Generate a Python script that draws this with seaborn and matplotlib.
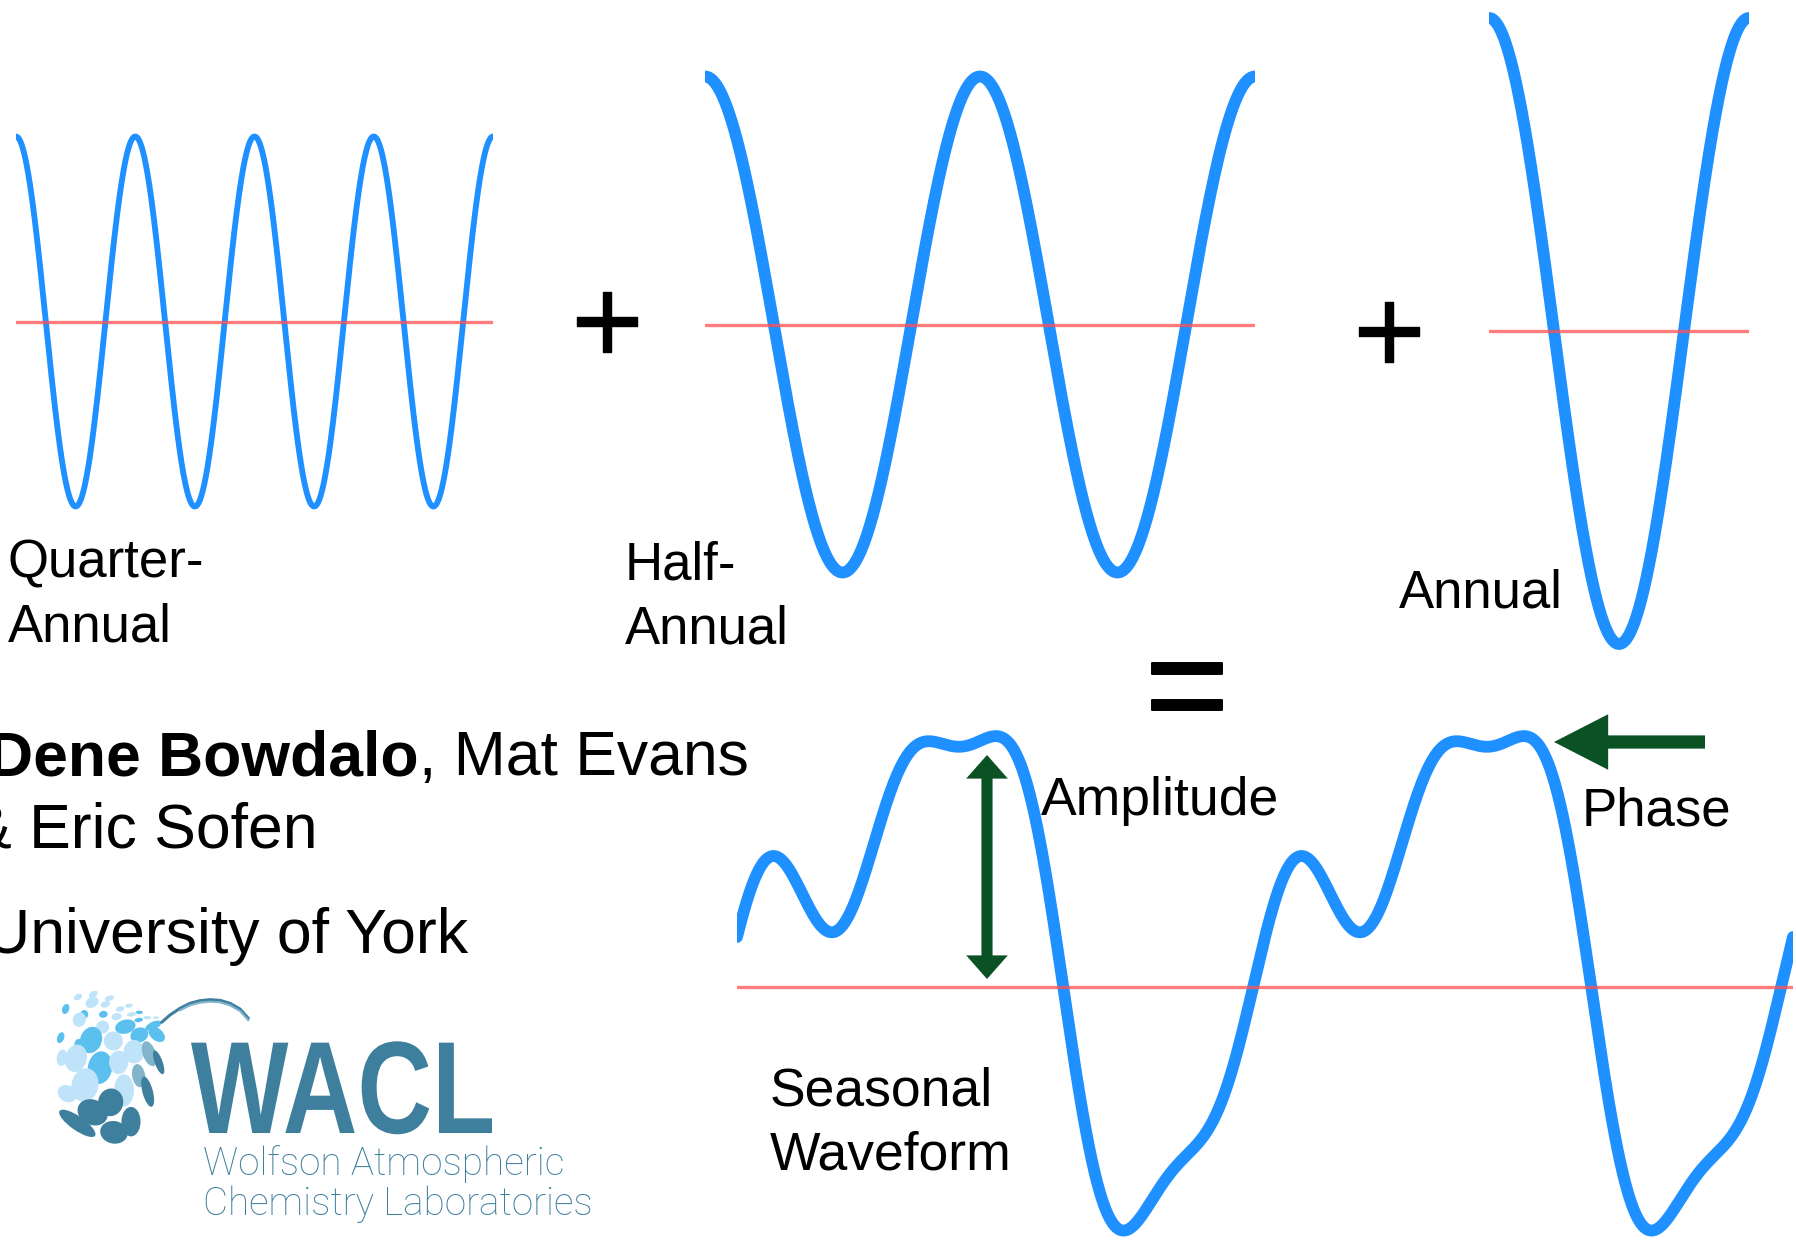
import numpy as np
import matplotlib.pyplot as plt
import matplotlib.patheffects as pe
import seaborn as sns
from matplotlib.patches import Ellipse, PathPatch
from matplotlib.textpath import TextPath
from matplotlib.font_manager import FontProperties
from matplotlib.transforms import Affine2D

# ---- data (value units ~ poster pixels) ----
quarter_cycles = 4      # cycles per year
quarter_amp = 185
half_cycles = 2
half_amp = 248
annual_cycles = 1
annual_amp = 313

# seasonal waveform = offset + harmonics (1 = annual, 2 = half, 4 = quarter)
seasonal_years = 2
seasonal_offset = 43
seasonal_harm = [1, 2, 4]
seasonal_cos = [-100, 103, 4]
seasonal_sin = [183, -6, 41]

component_labels = [["Quarter-", "Annual"], ["Half-", "Annual"], ["Annual"]]
author_lines = ["Dene Bowdalo", ", Mat Evans", "& Eric Sofen", "University of York"]
logo_title = "WACL"
logo_lines = ["Wolfson Atmospheric", "Chemistry Laboratories"]

# logo dots: x, y, w, h, angle, colour key (logo-local coords)
logo_dots = [
    (84, 36, 20, 14, -30, "L"), (130, 28, 22, 14, -30, "L"), (178, 40, 22, 12, -20, "L"),
    (126, 52, 32, 24, -30, "L"), (166, 58, 22, 14, -20, "L"), (210, 72, 20, 12, -15, "L"),
    (237, 62, 18, 9, -10, "L"), (47, 72, 16, 24, 20, "M"), (103, 88, 18, 20, 0, "M"),
    (88, 104, 30, 34, 20, "L"), (160, 88, 20, 16, -10, "M"), (200, 95, 24, 16, -10, "L"),
    (245, 88, 22, 10, -10, "L"), (268, 82, 16, 8, 0, "M"), (266, 105, 20, 10, -10, "M"),
    (292, 98, 18, 8, 0, "L"), (318, 98, 14, 6, 0, "L"), (158, 126, 30, 30, 0, "L"),
    (226, 125, 48, 32, -15, "M"), (310, 122, 40, 18, -25, "M"), (32, 158, 16, 26, 20, "M"),
    (85, 177, 18, 24, 10, "M"), (123, 165, 50, 62, 20, "M"), (190, 168, 44, 44, 10, "L"),
    (268, 150, 42, 34, -20, "M"), (320, 148, 28, 44, -50, "M"), (36, 218, 24, 38, 10, "L"),
    (78, 220, 50, 64, 15, "L"), (150, 248, 56, 76, 10, "M"), (206, 232, 44, 54, 0, "L"),
    (252, 200, 48, 54, 0, "L"), (298, 206, 30, 60, -20, "G"), (326, 232, 18, 58, -20, "D"),
    (52, 326, 46, 38, 30, "L"), (105, 300, 62, 78, 10, "L"), (222, 316, 46, 74, 0, "L"),
    (266, 272, 30, 54, -10, "G"), (293, 320, 24, 72, -15, "D"), (82, 415, 100, 32, 35, "D"),
    (128, 382, 72, 58, 25, "D"), (182, 352, 58, 64, 10, "D"), (192, 442, 64, 52, 10, "D"),
    (243, 410, 44, 68, 0, "D"),
]
logo_spray_x = [335, 360, 390, 420, 450, 480, 510, 540, 570, 595]
logo_spray_y = [112, 90, 70, 55, 47, 44, 46, 55, 72, 100]

# ---- style ----
sns.set_theme(style="white")
plt.rcParams["font.family"] = ["Liberation Sans", "DejaVu Sans"]
plt.rcParams["text.color"] = "black"
BLUE = "#1e90ff"
RED = "#ff5050"
GREEN = "#0a5124"
TEAL = "#3f7f9e"
dot_colors = {"L": "#bfe4f9", "M": "#5cc0ee", "D": "#3f7f9e", "G": "#82b4cc"}

W, H = 1796, 1248
fig = plt.figure(figsize=(W / 100, H / 100), dpi=100)
fig.patch.set_facecolor("white")


def wave_axes(x0, x1, center, half_h):
    ax = fig.add_axes([x0 / W, 1 - (center + half_h) / H, (x1 - x0) / W, 2 * half_h / H])
    ax.set_ylim(-half_h, half_h)
    ax.axis("off")
    return ax


def draw_wave(ax, years, values, lw):
    t = np.linspace(0, years, 1200)
    sns.lineplot(x=t, y=values(t), ax=ax, color=BLUE, linewidth=lw, estimator=None)
    ax.axhline(0, color=RED, lw=2.4, alpha=0.75, zorder=5)
    ax.set_xlim(0, years)


# quarter / half / annual components
ax_q = wave_axes(16, 493, 321.5, quarter_amp + 20)
draw_wave(ax_q, 1, lambda t: quarter_amp * np.cos(2 * np.pi * quarter_cycles * t), 4.2)
ax_h = wave_axes(705, 1255, 324.5, half_amp + 20)
draw_wave(ax_h, 1, lambda t: half_amp * np.cos(2 * np.pi * half_cycles * t), 8.5)
ax_a = wave_axes(1489, 1749, 331, annual_amp + 20)
draw_wave(ax_a, 1, lambda t: annual_amp * np.cos(2 * np.pi * annual_cycles * t), 8.5)


def seasonal(t):
    th = 2 * np.pi * t
    y = np.full_like(t, seasonal_offset, dtype=float)
    for h, c, s in zip(seasonal_harm, seasonal_cos, seasonal_sin):
        y += c * np.cos(h * th) + s * np.sin(h * th)
    return y


ax_s = wave_axes(737, 1793, 987, 275)
draw_wave(ax_s, seasonal_years, seasonal, 8.5)

# overlay for text and arrows, in poster pixels
ov = fig.add_axes([0, 0, 1, 1], zorder=10)
ov.set_xlim(0, W)
ov.set_ylim(H, 0)
ov.axis("off")
ov.patch.set_alpha(0)

fs_lab = 38
ov.text(8, 578, component_labels[0][0], fontsize=fs_lab, va="baseline")
ov.text(8, 641, component_labels[0][1], fontsize=fs_lab, va="baseline")
ov.text(625, 579, component_labels[1][0], fontsize=fs_lab, va="baseline")
ov.text(625, 643, component_labels[1][1], fontsize=fs_lab, va="baseline")
ov.text(1399, 607, component_labels[2][0], fontsize=fs_lab, va="baseline")
ov.text(1041, 815, "Amplitude", fontsize=38.5, va="baseline")
ov.text(1582, 825, "Phase", fontsize=38, va="baseline")
ov.text(770, 1106, "Seasonal", fontsize=38.5, va="baseline")
ov.text(770, 1169, "Waveform", fontsize=38.5, va="baseline")


def symbol(x, y, s, fs, stroke):
    em = fs * 100 / 72
    ov.text(x, y + 0.355 * em, s, fontsize=fs, ha="center", va="baseline",
            path_effects=[pe.withStroke(linewidth=stroke, foreground="black")])


symbol(607, 319, "+", 88, 1.0)
symbol(1389, 329, "+", 88, 1.0)
symbol(1187, 683, "=", 104, 1.4)

# authors
fs_auth = 45
t_mat = ov.text(749, 775, author_lines[1], fontsize=fs_auth, ha="right", va="baseline")
fig.canvas.draw()
bb = t_mat.get_window_extent()
x_left = ov.transData.inverted().transform((bb.x0, bb.y0))[0]
ov.text(x_left, 775, author_lines[0], fontsize=fs_auth, fontweight="bold", ha="right", va="baseline")
ov.text(318, 848, author_lines[2], fontsize=fs_auth, ha="right", va="baseline")
ov.text(468, 953, author_lines[3], fontsize=fs_auth, ha="right", va="baseline")


def fit_text(x, y, s, target_w, fs, **kw):
    t = ov.text(x, y, s, fontsize=fs, va="baseline", **kw)
    fig.canvas.draw()
    w = t.get_window_extent().width
    t.set_fontsize(fs * target_w / w)
    return t


# logo word, squeezed to the narrow logo proportions
tp = TextPath((0, 0), logo_title, size=100, prop=FontProperties(family="Liberation Sans", weight="bold"))
ext = tp.get_extents()
sx = 301 / ext.width
sy = 93 / ext.height
tr = Affine2D().translate(-ext.x0, 0).scale(sx, -sy).translate(191, 1133)
ov.add_patch(PathPatch(tp, transform=tr + ov.transData, color=TEAL, lw=0))

fit_text(203, 1175, logo_lines[0], 361, 27, color=TEAL, fontweight="light", family=["Roboto", "DejaVu Sans"])
fit_text(203, 1215, logo_lines[1], 390, 27, color=TEAL, fontweight="light", family=["Roboto", "DejaVu Sans"])


# arrows
def arrow(x0, y0, x1, y1, hl, hw, tw):
    ov.annotate("", xy=(x1, y1), xytext=(x0, y0),
                arrowprops=dict(arrowstyle=f"simple,head_length={hl},head_width={hw},tail_width={tw}",
                                mutation_scale=1, color=GREEN, lw=0, shrinkA=0, shrinkB=0))


arrow(987, 867, 987, 755, 17, 30, 8)
arrow(987, 867, 987, 979, 17, 30, 8)
arrow(1705, 742, 1554, 742, 39, 40, 9.5)

# logo mark
lg = fig.add_axes([50 / W, 1 - 1150 / H, 210 / W, 165 / H], zorder=11)
lg.set_xlim(0, 630)
lg.set_ylim(495, 0)
lg.axis("off")
lg.patch.set_alpha(0)
for x, y, w, h, a, c in logo_dots:
    lg.add_patch(Ellipse((x, y), w * 1.3, h * 1.3, angle=a, color=dot_colors[c], lw=0))
lg.plot(logo_spray_x, logo_spray_y, color=TEAL, lw=2.2, solid_capstyle="round")
lg.plot(logo_spray_x[2:], [v + 6 for v in logo_spray_y[2:]], color=dot_colors["G"], lw=1.5)

fig.savefig("out.png", dpi=100)
